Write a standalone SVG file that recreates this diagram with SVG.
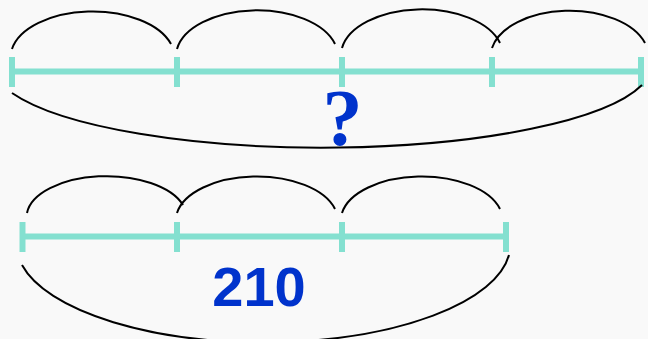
<svg xmlns="http://www.w3.org/2000/svg" width="648" height="339" viewBox="0 0 648 339">
  <style>
    .bar { stroke: #84e0d0; stroke-width: 6; fill: none; }
    .tick { stroke: #84e0d0; stroke-width: 6; fill: none; }
    .arc { stroke: #000; stroke-width: 2; fill: none; }
    .q { font-family: "Liberation Serif", "Times New Roman", serif; font-weight: bold; fill: #0033cc; }
    .num { font-family: "Liberation Sans", Arial, sans-serif; font-weight: bold; fill: #0033cc; }
  </style>
  <rect width="648" height="339" fill="#f9f9f9"/>

  <g id="top-bar">
    <line class="bar" x1="12" y1="71.5" x2="641" y2="71.5"/>
    <line class="tick" x1="12" y1="57" x2="12" y2="87"/>
    <line class="tick" x1="177" y1="57" x2="177" y2="87"/>
    <line class="tick" x1="342" y1="57" x2="342" y2="87"/>
    <line class="tick" x1="492" y1="57" x2="492" y2="87"/>
    <line class="tick" x1="641" y1="57" x2="641" y2="87"/>
  </g>

  <g id="bottom-bar">
    <line class="bar" x1="22" y1="236.5" x2="506" y2="236.5"/>
    <line class="tick" x1="22.5" y1="222" x2="22.5" y2="252"/>
    <line class="tick" x1="177" y1="222" x2="177" y2="252"/>
    <line class="tick" x1="342" y1="222" x2="342" y2="252"/>
    <line class="tick" x1="506" y1="222" x2="506" y2="252"/>
  </g>

  <g id="connectors">
    <g id="top-arcs">
      <path class="arc" d="M12,49 A82,46 0 0 1 171,44"/>
      <path class="arc" d="M177,49 A81,46 0 0 1 335,44"/>
      <path class="arc" d="M342,48 A81,46 0 0 1 500,43"/>
      <path class="arc" d="M492,48 A79,46 0 0 1 645,43"/>
      <path class="arc" d="M12,93 A330,83 0 0 0 642,85"/>
    </g>
    <g id="bottom-arcs">
      <path class="arc" d="M27,213 A80,41 0 0 1 183,205"/>
      <path class="arc" d="M177,213 A81,44 0 0 1 335,209"/>
      <path class="arc" d="M342,213 A81,44 0 0 1 500,209"/>
      <path class="arc" d="M22,265 A247,98 0 0 0 509,255"/>
    </g>
  </g>

  <g id="label-question">
    <text class="q" x="342.5" y="145" font-size="80" text-anchor="middle">?</text>
  </g>
  <g id="label-210">
    <text class="num" x="259" y="306" font-size="56" text-anchor="middle">210</text>
  </g>
</svg>
